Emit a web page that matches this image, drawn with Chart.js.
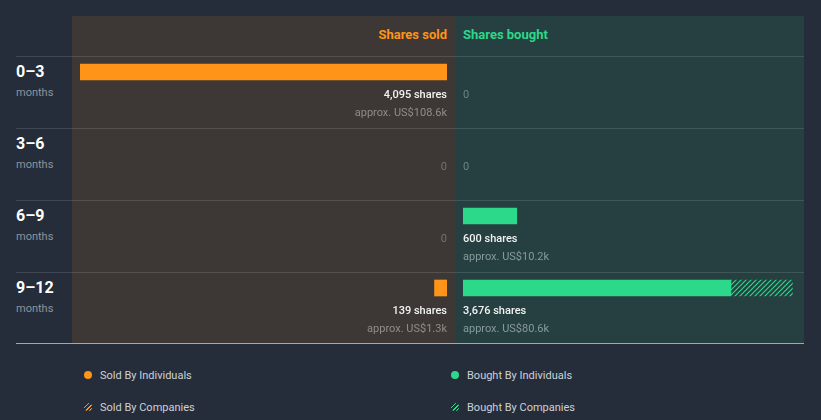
<!DOCTYPE html>
<html><head><meta charset="utf-8">
<script src="https://cdn.jsdelivr.net/npm/chart.js@4.4.0/dist/chart.umd.min.js"></script>
<style>
html,body{margin:0;padding:0;width:821px;height:420px;overflow:hidden;background:#252d3a;font-family:Roboto,"Noto Sans",sans-serif;}
.abs{position:absolute;}
.hl{position:absolute;left:16px;width:788px;height:1px;background:rgba(255,255,255,0.12);}
.rl{position:absolute;left:16px;color:#fff;font-weight:bold;font-size:16px;line-height:16px;}
.rs{position:absolute;left:16px;color:#8f949b;font-size:11px;line-height:12px;}
.lg{position:absolute;color:#cdd1d6;font-size:11px;line-height:12px;}
.dot{position:absolute;width:8px;height:8px;border-radius:50%;}
</style></head><body>
<div class="abs" style="left:72px;top:16px;width:383px;height:327px;background:#3d3835"></div>
<div class="abs" style="left:455px;top:16px;width:349px;height:327px;background:#263f40"></div>
<div id="lines"></div>
<div class="abs" style="left:16px;top:343px;width:788px;height:1px;background:#a3a8ae"></div>
<div id="hdr"></div>
<div id="rows"></div>
<div id="legend"></div>
<canvas id="sold" class="abs" width="383" height="308" style="left:72px;top:36px"></canvas>
<canvas id="bought" class="abs" width="375" height="308" style="left:455px;top:36px"></canvas>
<script>
const periods = ['0–3', '3–6', '6–9', '9–12'];
const periodUnit = 'months';
const soldIndividuals = [4095, 0, 0, 139];
const soldCompanies = [0, 0, 0, 0];
const soldValue = ['US$108.6k', '', '', 'US$1.3k'];
const boughtIndividuals = [0, 0, 600, 2990];
const boughtCompanies = [0, 0, 0, 686];
const boughtValue = ['', '', 'US$10.2k', 'US$80.6k'];
const axisMax = 4095;
const headerSold = 'Shares sold';
const headerBought = 'Shares bought';
const legendItems = ['Sold By Individuals', 'Sold By Companies', 'Bought By Individuals', 'Bought By Companies'];

const ORANGE = '#ff9419';
const GREEN = '#2cd889';

// static HTML layout
const lines = document.getElementById('lines');
[56, 128, 200, 272].forEach(y => { const d = document.createElement('div'); d.className = 'hl'; d.style.top = y + 'px'; lines.appendChild(d); });
const hdr = document.getElementById('hdr');
hdr.innerHTML = `<div class="abs" style="right:${821-447}px;top:28px;color:${ORANGE};font-weight:bold;font-size:13px;line-height:14px">${headerSold}</div>
<div class="abs" style="left:463px;top:28px;color:${GREEN};font-weight:bold;font-size:13px;line-height:14px">${headerBought}</div>`;
const rows = document.getElementById('rows');
periods.forEach((p, i) => {
  const top = 56 + i * 72;
  rows.innerHTML += `<div class="rl" style="top:${top + 8}px">${p}</div><div class="rs" style="top:${top + 31}px">${periodUnit}</div>`;
});
const legend = document.getElementById('legend');
const hatchCss = c => `repeating-linear-gradient(135deg, ${c} 0 1.2px, transparent 1.2px 3px)`;
const lgPos = [[88, 375, ORANGE, false], [88, 407, ORANGE, true], [455, 375, GREEN, false], [455, 407, GREEN, true]];
legendItems.forEach((t, i) => {
  const [x, y, c, h] = lgPos[i];
  legend.innerHTML += `<div class="dot" style="left:${x - 4}px;top:${y - 4}px;background:${h ? hatchCss(c) : c}"></div><div class="lg" style="left:${x + 12}px;top:${y - 5}px">${t}</div>`;
});

function hatch(color) {
  const c = document.createElement('canvas'); c.width = 5; c.height = 5;
  const x = c.getContext('2d');
  x.strokeStyle = color; x.lineWidth = 1.2;
  x.beginPath();
  x.moveTo(0, 5); x.lineTo(5, 0);
  x.moveTo(-2.5, 2.5); x.lineTo(2.5, -2.5);
  x.moveTo(2.5, 7.5); x.lineTo(7.5, 2.5);
  x.stroke();
  return x.createPattern(c, 'repeat');
}

const valueLabels = {
  id: 'valueLabels',
  afterDatasetsDraw(chart, args, o) {
    const { ctx, chartArea, scales: { y } } = chart;
    ctx.save();
    ctx.textAlign = o.align; ctx.textBaseline = 'middle';
    const x = o.align === 'right' ? chartArea.right : chartArea.left;
    periods.forEach((p, i) => {
      const total = o.ind[i] + o.comp[i];
      const cy = y.getPixelForValue(i);
      if (total > 0) {
        ctx.font = '500 11px Roboto';
        ctx.fillStyle = '#f2f2f2';
        ctx.fillText(total.toLocaleString('en-US') + ' shares', x, cy + 23);
        ctx.font = '11px Roboto';
        ctx.fillStyle = o.sub;
        ctx.fillText('approx. ' + o.vals[i], x, cy + 41);
      } else {
        ctx.font = '11px Roboto';
        ctx.fillStyle = o.zero;
        ctx.fillText('0', x, cy + 23);
      }
    });
    ctx.restore();
  }
};

function makeChart(id, ind, comp, vals, color, reverse, pad, sub, zero, labels) {
  const nz = a => a.map(v => v > 0 ? v : null);
  return new Chart(document.getElementById(id), {
    type: 'bar',
    data: {
      labels: periods,
      datasets: [
        { label: labels[0], data: nz(ind), backgroundColor: color, barThickness: 16, stack: 's' },
        { label: labels[1], data: nz(comp), backgroundColor: hatch(color), barThickness: 16, stack: 's' }
      ]
    },
    plugins: [valueLabels],
    options: {
      indexAxis: 'y', responsive: false, animation: false, devicePixelRatio: 1,
      layout: { padding: pad },
      plugins: {
        legend: { display: false }, tooltip: { enabled: false },
        valueLabels: { align: reverse ? 'right' : 'left', ind, comp, vals, sub, zero }
      },
      scales: {
        x: { display: false, reverse, min: 0, max: axisMax, stacked: true },
        y: { display: false, stacked: true }
      }
    }
  });
}

function draw() {
  makeChart('sold', soldIndividuals, soldCompanies, soldValue, ORANGE, true,
    { left: 8, right: 8, top: 0, bottom: 20 }, '#918c88', '#77726e', legendItems.slice(0, 2));
  makeChart('bought', boughtIndividuals, boughtCompanies, boughtValue, GREEN, false,
    { left: 8, right: 0, top: 0, bottom: 20 }, '#879a9a', '#6e8484', legendItems.slice(2, 4));
}
if (document.fonts && document.fonts.load) {
  Promise.all([document.fonts.load('11px Roboto'), document.fonts.load('500 11px Roboto')]).then(draw, draw);
} else draw();
</script>
</body></html>
